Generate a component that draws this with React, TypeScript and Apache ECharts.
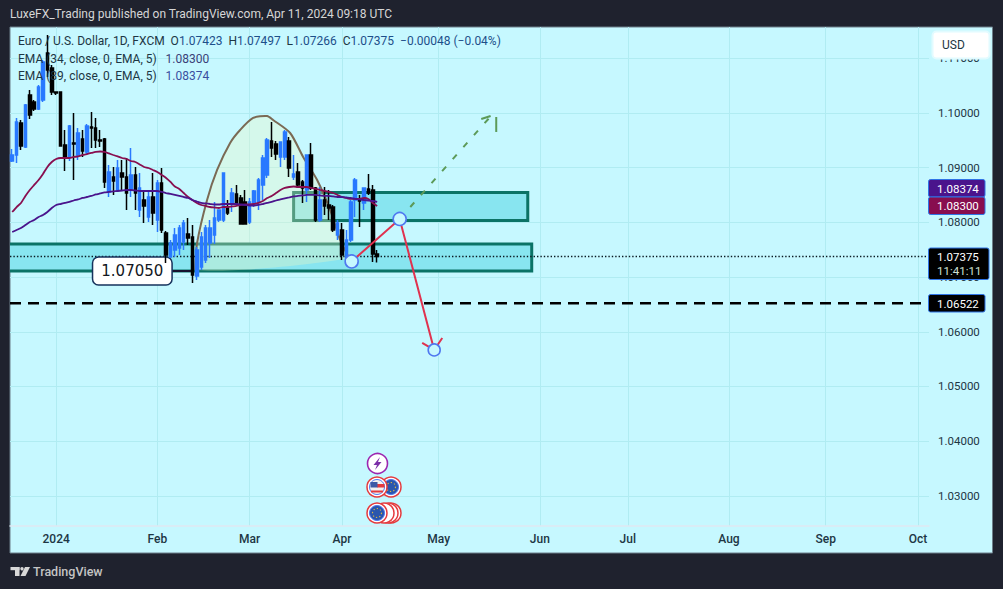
import React, { useEffect, useRef } from "react";
import * as echarts from "echarts";

// ---------- data ----------
const barCount = 209;
const barIds = Array.from({ length: barCount }, (_, i) => String(i));
const monthBars = [10, 33, 54, 75, 97, 120, 140, 163, 185, 206];
const monthLabels = ["2024", "Feb", "Mar", "Apr", "May", "Jun", "Jul", "Aug", "Sep", "Oct"];
const priceTicks = [1.03, 1.04, 1.05, 1.06, 1.07, 1.08, 1.09, 1.1, 1.11];

const opens = [1.09123,1.09232,1.09817,1.09378,1.10329,1.10201,1.10073,1.10238,1.11097,1.10823,1.10384,1.10384,1.09415,1.09196,1.09452,1.09232,1.09525,1.09287,1.09744,1.09726,1.09506,1.09525,1.08556,1.08830,1.08592,1.08903,1.08830,1.08592,1.08867,1.08227,1.08409,1.08099,1.08464,1.08044,1.08720,1.07806,1.07367,1.07495,1.07532,1.07642,1.07788,1.07733,1.07020,1.07185,1.07313,1.07623,1.07770,1.08044,1.08044,1.08263,1.08355,1.08519,1.08446,1.08373,1.08007,1.08355,1.08373,1.08684,1.08867,1.09488,1.09433,1.09196,1.09196,1.09488,1.08830,1.08921,1.08739,1.08592,1.09232,1.08629,1.08044,1.08409,1.08318,1.08281,1.07770,1.07861,1.07349,1.07678,1.08409,1.08409,1.08355,1.08611,1.08592,1.07423];
const closes = [1.09232,1.09835,1.09397,1.10146,1.09963,1.10073,1.10475,1.10932,1.10786,1.10384,1.10366,1.09397,1.09196,1.09762,1.09433,1.09634,1.09305,1.09762,1.09726,1.09506,1.09488,1.08739,1.08921,1.08757,1.08994,1.08830,1.08537,1.08867,1.08537,1.08629,1.08300,1.08464,1.08172,1.08720,1.07861,1.07404,1.07623,1.07770,1.07898,1.07989,1.07715,1.07038,1.07495,1.07733,1.07898,1.07898,1.08080,1.08227,1.08903,1.08172,1.08537,1.08355,1.07971,1.07971,1.08373,1.08574,1.08775,1.09177,1.09506,1.09360,1.09250,1.09470,1.09653,1.08994,1.08885,1.08684,1.08629,1.09232,1.08629,1.08044,1.08409,1.08300,1.08263,1.07861,1.07989,1.07404,1.07678,1.08373,1.08775,1.08391,1.08629,1.08537,1.07423,1.07375];
const lows = [1.09105,1.09086,1.09324,1.09360,1.09891,1.10037,1.10055,1.10201,1.10658,1.10329,1.10329,1.09397,1.08940,1.09122,1.08775,1.09141,1.09196,1.09250,1.09360,1.09360,1.09378,1.08629,1.08464,1.08501,1.08556,1.08592,1.08227,1.08464,1.08227,1.08099,1.07989,1.08007,1.07952,1.07824,1.07806,1.07258,1.07404,1.07367,1.07404,1.07495,1.07587,1.06892,1.06947,1.07130,1.07258,1.07349,1.07605,1.08007,1.08007,1.08135,1.08190,1.08318,1.07971,1.07971,1.07971,1.08281,1.08227,1.08409,1.08812,1.09196,1.09141,1.09013,1.09141,1.08830,1.08775,1.08629,1.08355,1.08373,1.08592,1.08007,1.08007,1.08135,1.08044,1.07824,1.07678,1.07313,1.07313,1.07642,1.08099,1.07916,1.08227,1.08501,1.07276,1.07266];
const highs = [1.09342,1.09909,1.09872,1.10165,1.10420,1.10238,1.10512,1.10969,1.11426,1.10878,1.10384,1.10384,1.09689,1.09781,1.10000,1.09726,1.09689,1.09799,1.10018,1.09909,1.09689,1.09543,1.09049,1.09013,1.09141,1.09141,1.09177,1.09360,1.09013,1.08903,1.08592,1.08592,1.08903,1.08775,1.08994,1.07843,1.07678,1.07898,1.07952,1.08044,1.08080,1.07952,1.07550,1.07824,1.07952,1.08044,1.08373,1.08135,1.08903,1.08409,1.08629,1.08684,1.08501,1.08592,1.08446,1.08592,1.08812,1.09232,1.09543,1.09835,1.09488,1.09470,1.09689,1.09561,1.09232,1.09086,1.08775,1.09232,1.09452,1.08647,1.08647,1.08647,1.08592,1.08318,1.08044,1.07989,1.07861,1.08409,1.08812,1.08501,1.08629,1.08885,1.08684,1.07497];
const ema34 = [1.08190,1.08281,1.08355,1.08483,1.08592,1.08684,1.08775,1.08885,1.09013,1.09104,1.09159,1.09177,1.09177,1.09177,1.09196,1.09205,1.09232,1.09250,1.09269,1.09287,1.09296,1.09287,1.09260,1.09232,1.09205,1.09177,1.09159,1.09122,1.09104,1.09058,1.09013,1.08994,1.08958,1.08921,1.08867,1.08812,1.08739,1.08656,1.08611,1.08537,1.08464,1.08409,1.08355,1.08318,1.08300,1.08281,1.08272,1.08263,1.08281,1.08281,1.08291,1.08300,1.08318,1.08327,1.08327,1.08336,1.08355,1.08391,1.08446,1.08483,1.08537,1.08592,1.08629,1.08647,1.08656,1.08647,1.08647,1.08647,1.08629,1.08611,1.08592,1.08574,1.08556,1.08537,1.08501,1.08464,1.08446,1.08428,1.08428,1.08428,1.08446,1.08428,1.08355,1.08300];
const ema89 = [1.07824,1.07861,1.07898,1.07952,1.08007,1.08044,1.08099,1.08135,1.08190,1.08263,1.08318,1.08336,1.08355,1.08373,1.08400,1.08419,1.08446,1.08464,1.08483,1.08510,1.08528,1.08547,1.08556,1.08565,1.08574,1.08583,1.08592,1.08592,1.08583,1.08574,1.08574,1.08574,1.08574,1.08574,1.08556,1.08537,1.08519,1.08501,1.08483,1.08464,1.08446,1.08409,1.08382,1.08355,1.08346,1.08336,1.08327,1.08327,1.08336,1.08336,1.08336,1.08336,1.08327,1.08318,1.08309,1.08309,1.08318,1.08336,1.08355,1.08373,1.08400,1.08419,1.08437,1.08455,1.08474,1.08483,1.08492,1.08501,1.08501,1.08501,1.08492,1.08483,1.08483,1.08474,1.08464,1.08464,1.08455,1.08446,1.08428,1.08419,1.08409,1.08400,1.08391,1.08374];

// drawings, in bar units and prices
const lowerZone = [-1, 118.65, 1.07605, 1.07111];
const upperZone = [64.5, 117.75, 1.08547, 1.08035];
const arcBars = [42.1, 42.55, 44.82, 47.1, 50.06, 52.33, 55.29, 58.48, 59.84, 63.71, 66.67, 69.85, 72.81, 75.09, 77.13];
const arcPrices = [1.0713, 1.07623, 1.08409, 1.08958, 1.09452, 1.09689, 1.09909, 1.09945, 1.09872, 1.09634, 1.09196, 1.08775, 1.08227, 1.07678, 1.07349];
const lastPrice = 1.07375;
const supportPrice = 1.06522;
const pathBars = [77.7, 88.62, 96.47];
const pathPrices = [1.07285, 1.08062, 1.05667];
const headBars = [93.74, 96.47, 98.3];
const headPrices = [1.05795, 1.05667, 1.05887];
const upTargetBar = 108.99;
const upTargetPrice = 1.09909;
const callout = [18.77, 36.86, 1.07367, 1.06855];
const calloutText = "1.07050";
const calloutLink = [36.86, 41.4, 1.07111];

// texts
const titleText = "LuxeFX_Trading published on TradingView.com, Apr 11, 2024 09:18 UTC";
const symbolText = "Euro / U.S. Dollar, 1D, FXCM";
const ohlcLabels = ["O", "H", "L", "C"];
const ohlcValues = ["1.07423", "1.07497", "1.07266", "1.07375"];
const changeText = "\u22120.00048 (\u22120.04%)";
const ema34Label = "EMA (34, close, 0, EMA, 5)";
const ema89Label = "EMA (89, close, 0, EMA, 5)";
const ema34Value = "1.08300";
const ema89Value = "1.08374";
const countdown = "11:41:11";
const currency = "USD";
const brand = "TradingView";

const BG = "#c6f8ff";
const DARK = "#1f222e";
const TXT = "#1d3644";
const FONT = "Roboto, 'Noto Sans', sans-serif";
const BLUE = "#2979ff";
const ZONE = "#88e5f0";
const TEAL = "#0b7366";
const GRID = "#b0ecf2";

function px(api: any, u: number, p: number) {
  return api.coord([u, p]);
}

function rectOf(api: any, z: number[], style: any) {
  const a = px(api, z[0], z[2]);
  const b = px(api, z[1], z[3]);
  return { type: "rect", shape: { x: a[0], y: a[1], width: b[0] - a[0], height: b[1] - a[1] }, style };
}

function line(api: any, pts: number[][], style: any) {
  return { type: "polyline", shape: { points: pts.map((q) => px(api, q[0], q[1])) }, style: { fill: null, ...style } };
}

function renderBelow(_: any, api: any) {
  const arcPts = arcBars.map((b, i) => px(api, b, arcPrices[i]));
  const zoneStyle = { fill: ZONE, stroke: TEAL, lineWidth: 3 };
  return {
    type: "group",
    children: [
      rectOf(api, lowerZone, zoneStyle),
      rectOf(api, upperZone, zoneStyle),
      { type: "polygon", shape: { points: arcPts, smooth: 0.25 }, style: { fill: "rgba(250,248,190,0.31)" } },
      { type: "polyline", shape: { points: arcPts, smooth: 0.25 }, style: { fill: null, stroke: "#7a6a55", lineWidth: 2 } },
      line(api, [[0, lastPrice], [barCount, lastPrice]], { stroke: "#0a1a22", lineWidth: 1.4, lineDash: [1.4, 2] }),
      line(api, [[0, supportPrice], [barCount, supportPrice]], { stroke: "#000", lineWidth: 2.6, lineDash: [11, 7] }),
      line(api, [[calloutLink[0], calloutLink[2]], [calloutLink[1], calloutLink[2]]], { stroke: "#16122e", lineWidth: 2 }),
      {
        ...rectOf(api, callout, { fill: "#ffffff", stroke: "#16325c", lineWidth: 1.5 }),
        shape: (() => {
          const a = px(api, callout[0], callout[2]);
          const b = px(api, callout[1], callout[3]);
          return { x: a[0], y: a[1], width: b[0] - a[0], height: b[1] - a[1], r: 6 };
        })(),
      },
      (() => {
        const a = px(api, (callout[0] + callout[1]) / 2, (callout[2] + callout[3]) / 2);
        return {
          type: "text",
          style: { text: calloutText, x: a[0], y: a[1], fill: "#131722", align: "center", verticalAlign: "middle", fontSize: 15, fontFamily: "'DejaVu Sans', sans-serif" },
        };
      })(),
    ],
  };
}

function renderAbove(_: any, api: any) {
  const path = pathBars.map((b, i) => [b, pathPrices[i]]);
  const red = { stroke: "#e0324f", lineWidth: 2 };
  const circle = (q: number[], r: number) => {
    const c = px(api, q[0], q[1]);
    return { type: "circle", shape: { cx: c[0], cy: c[1], r }, style: { fill: BG, stroke: "#4f78f0", lineWidth: 1.6 } };
  };
  return {
    type: "group",
    children: [
      line(api, [path[1], [upTargetBar, upTargetPrice]], { stroke: "#5c9a58", lineWidth: 2, lineDash: [6, 10] }),
      line(api, [[107.17, 1.0989], [109.3, 1.09945]], { stroke: "#5c9a58", lineWidth: 2 }),
      line(api, [[110.58, 1.09927], [110.58, 1.09653]], { stroke: "#5c9a58", lineWidth: 2 }),
      line(api, path, red),
      line(api, headBars.map((b, i) => [b, headPrices[i]]), red),
      circle(path[0], 6.5),
      circle(path[1], 6.5),
      circle(path[2], 6),
    ],
  };
}

function euFlag(cx: number, cy: number) {
  return [
    { type: "circle", z: 90, shape: { cx, cy, r: 10 }, style: { fill: "#fff", stroke: "#e5393d", lineWidth: 1.5 } },
    { type: "circle", z: 90, shape: { cx, cy, r: 7.5 }, style: { fill: "#2a56ad", stroke: "#4f78f0", lineWidth: 1 } },
    { type: "circle", z: 90, shape: { cx, cy, r: 4.5 }, style: { fill: null, stroke: "#d8b24a", lineWidth: 1.2, lineDash: [1.2, 2.2] } },
  ];
}

function tag(x: number, y: number, w: number, h: number, fill: string, r = 2) {
  return { type: "rect", z: 100, shape: { x, y, width: w, height: h, r }, style: { fill, stroke: "#2f74e6", lineWidth: 1 } };
}

function tagText(x: number, y: number, text: string, fill = "#ffffff") {
  return { type: "text", z: 101, x, y, style: { text, fill, fontSize: 11.5, fontFamily: FONT, verticalAlign: "middle", align: "left" } };
}

export default function App() {
  const ref = useRef<HTMLDivElement>(null);

  useEffect(() => {
    document.body.style.margin = "0";
    const chart = echarts.init(ref.current!, undefined, { renderer: "svg" });

    const ohlcRich = ohlcLabels
      .map((l, i) => `{l|${l}}{v|${ohlcValues[i]}}`)
      .join("  ");

    chart.setOption({
      animation: false,
      backgroundColor: DARK,
      grid: { left: 10, right: 74, top: 27, bottom: 63, containLabel: false },
      xAxis: [
        {
          type: "category",
          data: barIds,
          boundaryGap: true,
          axisLine: { show: true, lineStyle: { color: "#dfe8f2", width: 1.5 } },
          axisTick: { show: false },
          axisLabel: {
            interval: (i: number) => monthBars.includes(i),
            formatter: (_: string, i: number) => monthLabels[monthBars.indexOf(i)] ?? "",
            color: TXT,
            fontFamily: FONT,
            fontSize: 12,
            fontWeight: 500,
            margin: 7,
            hideOverlap: false,
          },
          splitLine: {
            show: true,
            alignWithLabel: true,
            interval: (i: number) => monthBars.includes(i),
            lineStyle: { color: GRID, width: 1 },
          },
        },
        { type: "value", min: 0, max: barCount, show: false, splitLine: { show: false } },
      ],
      yAxis: {
        type: "value",
        position: "right",
        min: 1.02449,
        max: 1.11572,
        axisLine: { show: false },
        axisTick: { show: false, customValues: priceTicks },
        axisLabel: {
          customValues: priceTicks,
          formatter: (v: number) => v.toFixed(5),
          color: TXT,
          fontFamily: FONT,
          fontSize: 11.5,
          margin: 9,
        },
        splitLine: { show: true, lineStyle: { color: GRID, width: 1 } },
      },
      series: [
        { type: "custom", xAxisIndex: 1, yAxisIndex: 0, z: 1, clip: true, silent: true, data: [[0, 1.05]], renderItem: renderBelow },
        {
          type: "candlestick",
          xAxisIndex: 0,
          yAxisIndex: 0,
          z: 2,
          barWidth: 3,
          data: opens.map((o, i) => [o, closes[i], lows[i], highs[i]]),
          itemStyle: { color: BLUE, color0: "#000000", borderColor: BLUE, borderColor0: "#000000", borderWidth: 1.5 },
        },
        { type: "line", xAxisIndex: 0, yAxisIndex: 0, z: 3, data: ema34, showSymbol: false, smooth: 0.2, lineStyle: { color: "#880e4f", width: 1.8 } },
        { type: "line", xAxisIndex: 0, yAxisIndex: 0, z: 3, data: ema89, showSymbol: false, smooth: 0.2, lineStyle: { color: "#4a148c", width: 1.8 } },
        { type: "custom", xAxisIndex: 1, yAxisIndex: 0, z: 4, clip: true, silent: true, data: [[0, 1.05]], renderItem: renderAbove },
      ],
      graphic: {
        elements: [
          { type: "rect", z: -1, shape: { x: 10, y: 27, width: 982.5, height: 526 }, style: { fill: BG, stroke: "#6d7f8a", lineWidth: 1 } },
          { type: "text", z: 100, x: 10, y: 14, style: { text: titleText, fill: "#d6d6d6", fontSize: 12, fontFamily: FONT, verticalAlign: "middle" } },
          {
            type: "text", z: 100, x: 18, y: 41,
            style: {
              text: `{l|${symbolText}}  ${ohlcRich}  {v|${changeText}}`,
              fontSize: 12, fontFamily: FONT, verticalAlign: "middle",
              rich: {
                l: { fill: TXT, fontSize: 12, fontFamily: FONT },
                v: { fill: "#1d4f8a", fontSize: 12, fontFamily: FONT },
              },
            },
          },
          {
            type: "text", z: 100, x: 18, y: 59,
            style: {
              text: `{l|${ema34Label}}   {v|${ema34Value}}`, fontSize: 12, fontFamily: FONT, verticalAlign: "middle",
              rich: { l: { fill: TXT, fontSize: 12, fontFamily: FONT }, v: { fill: "#3a3f78", fontSize: 12, fontFamily: FONT } },
            },
          },
          {
            type: "text", z: 100, x: 18, y: 76,
            style: {
              text: `{l|${ema89Label}}   {v|${ema89Value}}`, fontSize: 12, fontFamily: FONT, verticalAlign: "middle",
              rich: { l: { fill: TXT, fontSize: 12, fontFamily: FONT }, v: { fill: "#3a4fa0", fontSize: 12, fontFamily: FONT } },
            },
          },
          // currency button
          { type: "rect", z: 100, shape: { x: 932.5, y: 31.5, width: 57, height: 27, r: 4 }, style: { fill: "#ffffff", stroke: "#e2fbff", lineWidth: 2 } },
          { type: "text", z: 101, x: 942, y: 45, style: { text: currency, fill: TXT, fontSize: 12, fontFamily: FONT, verticalAlign: "middle" } },
          // price tags
          tag(928.5, 179.5, 56.5, 17.5, "#4a148c"),
          tag(928.5, 197, 56.5, 17.5, "#880e4f"),
          tagText(937, 188.5, ema89Value),
          tagText(937, 206, ema34Value),
          tag(928.5, 248, 60.5, 31.5, "#000000"),
          tagText(937, 257, ohlcValues[3]),
          tagText(937, 271, countdown, "#cfe0d4"),
          tag(928.5, 294.5, 56.5, 17.5, "#000000"),
          tagText(937, 303.5, supportPrice.toFixed(5)),
          // events
          { type: "circle", z: 90, shape: { cx: 377.5, cy: 463.5, r: 10 }, style: { fill: "#fff", stroke: "#9c27b0", lineWidth: 1.6 } },
          { type: "polygon", z: 91, shape: { points: [[380, 457], [373.5, 465], [377, 465], [375, 470], [381.5, 462], [378, 462]] }, style: { fill: "#7b2fa8" } },
          ...euFlag(391, 487),
          { type: "circle", z: 91, shape: { cx: 377, cy: 487, r: 10 }, style: { fill: "#fff", stroke: "#e5393d", lineWidth: 1.5 } },
          { type: "circle", z: 91, shape: { cx: 377, cy: 487, r: 7.5 }, style: { fill: "#f2f2f2", stroke: "#4f78f0", lineWidth: 1 } },
          { type: "rect", z: 92, shape: { x: 371, y: 490.5, width: 12, height: 2 }, style: { fill: "#e5393d" } },
          { type: "rect", z: 92, shape: { x: 377, y: 484, width: 7.5, height: 3.5 }, style: { fill: "#e5393d" } },
          { type: "rect", z: 92, shape: { x: 370.5, y: 482, width: 7, height: 5.5 }, style: { fill: "#3c5aa6" } },
          ...[391, 388, 384].flatMap((c) => [
            { type: "circle", z: 90, shape: { cx: c, cy: 513, r: 10 }, style: { fill: "#fff", stroke: "#e5393d", lineWidth: 1.5 } },
          ]),
          ...euFlag(377, 513).map((e) => ({ ...e, z: 91 })),
          // brand
          { type: "rect", z: 100, shape: { x: 10.5, y: 567, width: 9, height: 3.2 }, style: { fill: "#d8d8d8" } },
          { type: "rect", z: 100, shape: { x: 15, y: 567, width: 4.5, height: 9 }, style: { fill: "#d8d8d8" } },
          { type: "circle", z: 100, shape: { cx: 22, cy: 568.7, r: 1.7 }, style: { fill: "#d8d8d8" } },
          { type: "polygon", z: 100, shape: { points: [[25, 567], [30, 567], [25.5, 576], [20.5, 576]] }, style: { fill: "#d8d8d8" } },
          { type: "text", z: 100, x: 33, y: 571.5, style: { text: brand, fill: "#c4c4c4", fontSize: 12.5, fontWeight: 500, fontFamily: FONT, verticalAlign: "middle" } },
        ],
      },
    });

    return () => chart.dispose();
  }, []);

  return <div ref={ref} style={{ position: "absolute", left: 0, top: 0, width: 1003, height: 589 }} />;
}
